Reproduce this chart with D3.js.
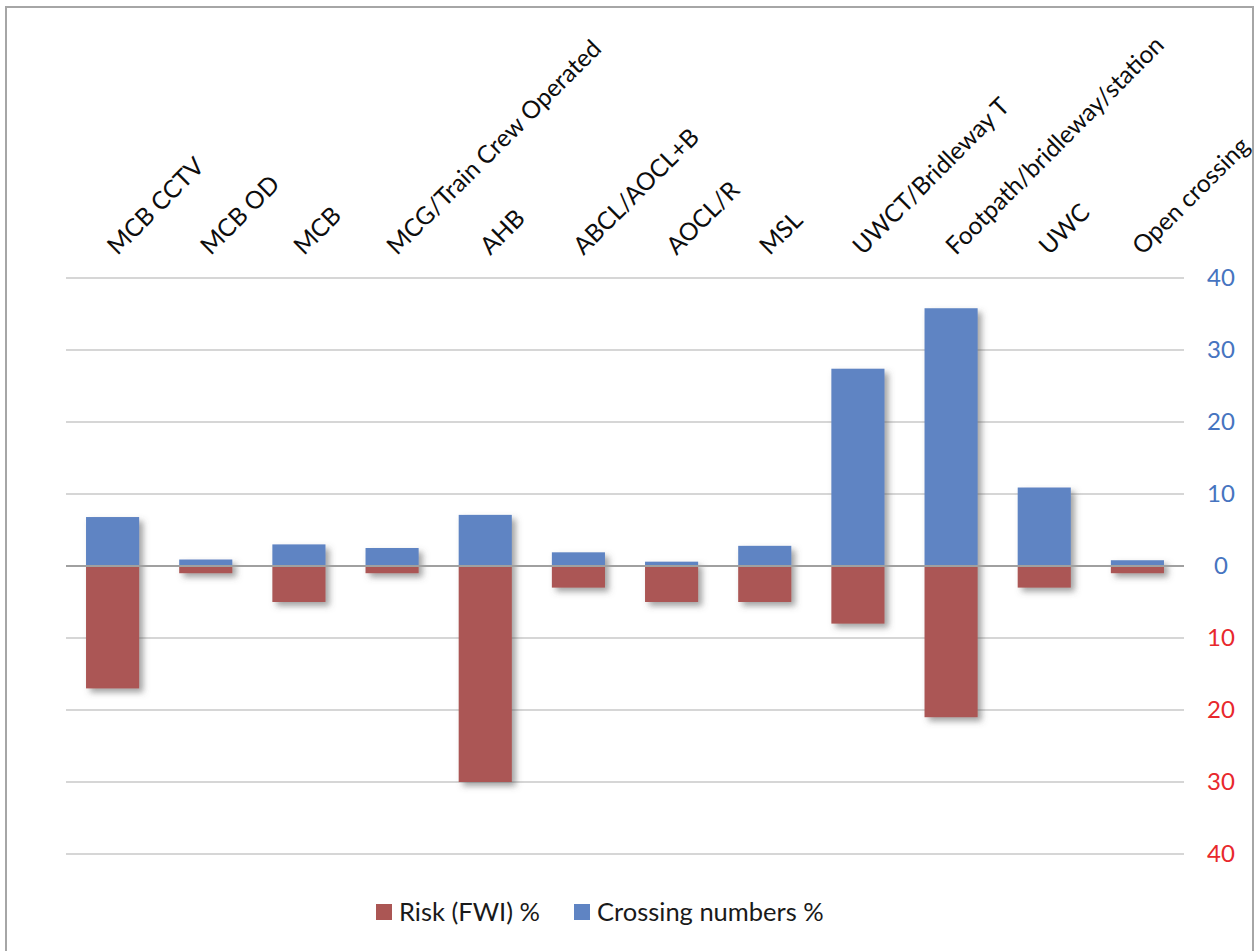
<!DOCTYPE html>
<html>
<head>
<meta charset="utf-8" />
<title>Risk vs crossing numbers</title>
<script src="https://d3js.org/d3.v7.min.js"></script>
<style>
    body { margin: 0; background: #fff; font-family: "Lato", "Open Sans", sans-serif; }
    .grid line { stroke: #c9c9c9; stroke-width: 1.5; }
    .zero { stroke: #a0a0a0; stroke-width: 2.2; }
    .cat { font-size: 24.5px; fill: #0d0d0d; }
    .tick-lbl { font-size: 24px; }
    .legend text { font-size: 25.5px; fill: #1a1a1a; }
</style>
</head>
<body>
<div id="chart"></div>
<script>
var categories = ["MCB CCTV", "MCB OD", "MCB", "MCG/Train Crew Operated", "AHB", "ABCL/AOCL+B",
                  "AOCL/R", "MSL", "UWCT/Bridleway T", "Footpath/bridleway/station", "UWC", "Open crossing"];
var crossing = [6.8, 0.9, 3.0, 2.5, 7.1, 1.9, 0.6, 2.8, 27.4, 35.8, 10.9, 0.8];
var risk = [17, 1, 5, 1, 30, 3, 5, 5, 8, 21, 3, 1];
var tickValues = [40, 30, 20, 10, 0, -10, -20, -30, -40];
var seriesNames = ["Risk (FWI) %", "Crossing numbers %"];
var colors = {risk: "#ab5654", crossing: "#5f84c3"};

var W = 1257, H = 951;
var svg = d3.select("#chart").append("svg")
    .attr("width", W)
    .attr("height", H);

var defs = svg.append("defs");
var f = defs.append("filter").attr("id", "shadow")
    .attr("x", "-20%").attr("y", "-20%").attr("width", "150%").attr("height", "150%");
f.append("feDropShadow")
    .attr("dx", 4).attr("dy", 4).attr("stdDeviation", 3)
    .attr("flood-color", "#555").attr("flood-opacity", 0.55);

// outer frame
svg.append("rect")
    .attr("x", 6).attr("y", 7)
    .attr("width", 1247).attr("height", 960)
    .attr("fill", "none").attr("stroke", "#a6a6a6").attr("stroke-width", 2);

var x = d3.scaleBand()
    .domain(categories)
    .range([66, 1184])
    .paddingInner(0.43)
    .paddingOuter(0.215);

var y = d3.scaleLinear()
    .domain([-40, 40])
    .range([854, 278]);

// gridlines
svg.append("g").attr("class", "grid")
    .selectAll("line")
    .data(tickValues.filter(function (d) { return d !== 0; }))
    .enter().append("line")
    .attr("x1", 66).attr("x2", 1184)
    .attr("y1", function (d) { return y(d); })
    .attr("y2", function (d) { return y(d); });

// bars
var bars = svg.append("g").attr("filter", "url(#shadow)");

bars.selectAll(".crossing")
    .data(crossing)
    .enter().append("rect")
    .attr("class", "crossing")
    .attr("x", function (d, i) { return x(categories[i]); })
    .attr("width", x.bandwidth())
    .attr("y", function (d) { return y(d); })
    .attr("height", function (d) { return y(0) - y(d); })
    .attr("fill", colors.crossing);

bars.selectAll(".risk")
    .data(risk)
    .enter().append("rect")
    .attr("class", "risk")
    .attr("x", function (d, i) { return x(categories[i]); })
    .attr("width", x.bandwidth())
    .attr("y", y(0))
    .attr("height", function (d) { return y(-d) - y(0); })
    .attr("fill", colors.risk);

// zero line
svg.append("line").attr("class", "zero")
    .attr("x1", 66).attr("x2", 1184)
    .attr("y1", y(0)).attr("y2", y(0));

// right axis
var yAxis = d3.axisRight(y)
    .tickValues(tickValues)
    .tickSize(0)
    .tickFormat(function (d) { return Math.abs(d); });

var gy = svg.append("g")
    .attr("transform", "translate(1221,0)")
    .call(yAxis);
gy.select(".domain").remove();
gy.selectAll("text")
    .attr("class", "tick-lbl")
    .attr("x", 0)
    .attr("text-anchor", "middle")
    .style("font-family", "Lato, sans-serif")
    .attr("fill", function (d) { return d < 0 ? "#e8282c" : "#4674c0"; });

// category labels, rotated
svg.append("g")
    .selectAll("text")
    .data(categories)
    .enter().append("text")
    .attr("class", "cat")
    .attr("transform", function (d) {
        return "translate(" + (x(d) + x.bandwidth() / 2 + 5) + ",256) rotate(-45)";
    })
    .text(function (d) { return d; });

// legend
var legend = svg.append("g").attr("class", "legend");
var legendX = [376, 574];
var legendColors = [colors.risk, colors.crossing];
seriesNames.forEach(function (name, i) {
    legend.append("rect")
        .attr("x", legendX[i]).attr("y", 904)
        .attr("width", 16).attr("height", 16)
        .attr("fill", legendColors[i]);
    legend.append("text")
        .attr("x", legendX[i] + 23).attr("y", 921)
        .text(name);
});
</script>
</body>
</html>
